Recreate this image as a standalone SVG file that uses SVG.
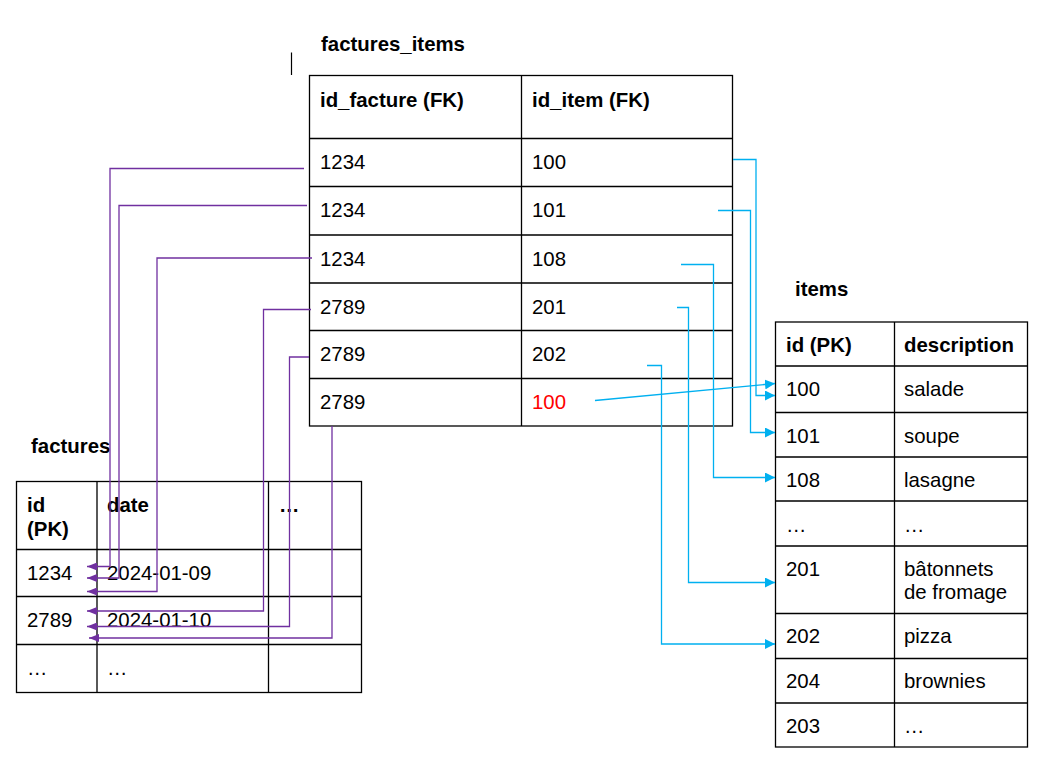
<svg xmlns="http://www.w3.org/2000/svg" width="1042" height="758" viewBox="0 0 1042 758">
<style>
  text { font-family: "Liberation Sans", Arial, sans-serif; font-size: 20.4px; fill: #000; }
  .b { font-weight: bold; }
  .red { fill: #FF0000; }
  .cell { fill: #fff; stroke: #000; stroke-width: 1.3; }
  .grid { stroke: #000; stroke-width: 1.3; fill: none; }
  .p { fill: none; stroke: #7030A0; stroke-width: 1.3; marker-end: url(#ap); }
  .c { fill: none; stroke: #00B0F0; stroke-width: 1.3; marker-end: url(#ac); }
</style>
<defs>
  <marker id="ap" markerUnits="userSpaceOnUse" markerWidth="10" markerHeight="8" refX="10" refY="4" orient="auto">
    <path d="M0,0 L10,4 L0,8 z" fill="#7030A0"/>
  </marker>
  <marker id="ac" markerUnits="userSpaceOnUse" markerWidth="10" markerHeight="10" refX="10" refY="5" orient="auto">
    <path d="M0,0 L10,5 L0,10 z" fill="#00B0F0"/>
  </marker>
</defs>
<rect width="1042" height="758" fill="#fff"/>

<line x1="291.5" y1="52.5" x2="291.5" y2="75" stroke="#000" stroke-width="1.2"/>

<g id="factures_items">
  <text class="b" x="321" y="51">factures_items</text>
  <rect class="cell" x="309.5" y="75.5" width="423" height="350.5"/>
  <path class="grid" d="M521.5,75.5 V426 M309.5,138.5 H732.5 M309.5,186.5 H732.5 M309.5,235 H732.5 M309.5,283 H732.5 M309.5,330.5 H732.5 M309.5,378.5 H732.5"/>
  <text class="b" x="320" y="107">id_facture (FK)</text>
  <text class="b" x="532" y="107">id_item (FK)</text>
  <text x="320" y="168.5">1234</text><text x="532" y="168.5">100</text>
  <text x="320" y="216.5">1234</text><text x="532" y="216.5">101</text>
  <text x="320" y="265.5">1234</text><text x="532" y="265.5">108</text>
  <text x="320" y="313.5">2789</text><text x="532" y="313.5">201</text>
  <text x="320" y="360.5">2789</text><text x="532" y="360.5">202</text>
  <text x="320" y="408.5">2789</text><text class="red" x="532" y="408.5">100</text>
</g>

<g id="items">
  <text class="b" x="795" y="296">items</text>
  <rect class="cell" x="775.5" y="322" width="252" height="425"/>
  <path class="grid" d="M894.5,322 V747 M775.5,366 H1027.5 M775.5,412.5 H1027.5 M775.5,457 H1027.5 M775.5,501 H1027.5 M775.5,546 H1027.5 M775.5,613.5 H1027.5 M775.5,658.5 H1027.5 M775.5,703 H1027.5"/>
  <text class="b" x="786" y="352">id (PK)</text><text class="b" x="904" y="352">description</text>
  <text x="786" y="396">100</text><text x="904" y="396">salade</text>
  <text x="786" y="443">101</text><text x="904" y="443">soupe</text>
  <text x="786" y="487">108</text><text x="904" y="487">lasagne</text>
  <text x="786" y="532">…</text><text x="904" y="532">…</text>
  <text x="786" y="576">201</text><text x="904" y="576">bâtonnets</text>
  <text x="904" y="599">de fromage</text>
  <text x="786" y="643">202</text><text x="904" y="643">pizza</text>
  <text x="786" y="688">204</text><text x="904" y="688">brownies</text>
  <text x="786" y="733">203</text><text x="904" y="733">…</text>
</g>

<g id="factures">
  <text class="b" x="31" y="453">factures</text>
  <rect class="cell" x="16.5" y="481.5" width="345" height="211"/>
  <path class="grid" d="M97,481.5 V692.5 M268.5,481.5 V692.5 M16.5,549.5 H361.5 M16.5,596.5 H361.5 M16.5,644.5 H361.5"/>
  <text class="b" x="27" y="512">id</text>
  <text class="b" x="27" y="536">(PK)</text>
  <text class="b" x="107" y="512">date</text>
  <text class="b" x="279" y="512">…</text>
  <text x="27" y="580">1234</text><text x="107" y="580">2024-01-09</text>
  <text x="27" y="627">2789</text><text x="107" y="627">2024-01-10</text>
  <text x="27" y="675">…</text><text x="107" y="675">…</text>
</g>

<g id="connectors">
  <path class="p" d="M304,168.5 H110 V566.5 H87"/>
  <path class="p" d="M307,205.5 H119 V578 H87"/>
  <path class="p" d="M312,258 H157 V591.5 H87"/>
  <path class="p" d="M311,309.5 H263.5 V611 H87"/>
  <path class="p" d="M309,357 H289.5 V626.5 H87"/>
  <path class="p" d="M332,426 V638 H89"/>
  <path class="c" d="M733,159.5 H756 V395.5 H775"/>
  <path class="c" d="M718,210.5 H750.5 V432.5 H775"/>
  <path class="c" d="M681,264.5 H713.5 V477.5 H775"/>
  <path class="c" d="M677,307.5 H688.5 V582.5 H775"/>
  <path class="c" d="M647,365.5 H661.5 V644 H775"/>
  <path class="c" d="M595,400.5 L775,383.5"/>
</g>
</svg>
